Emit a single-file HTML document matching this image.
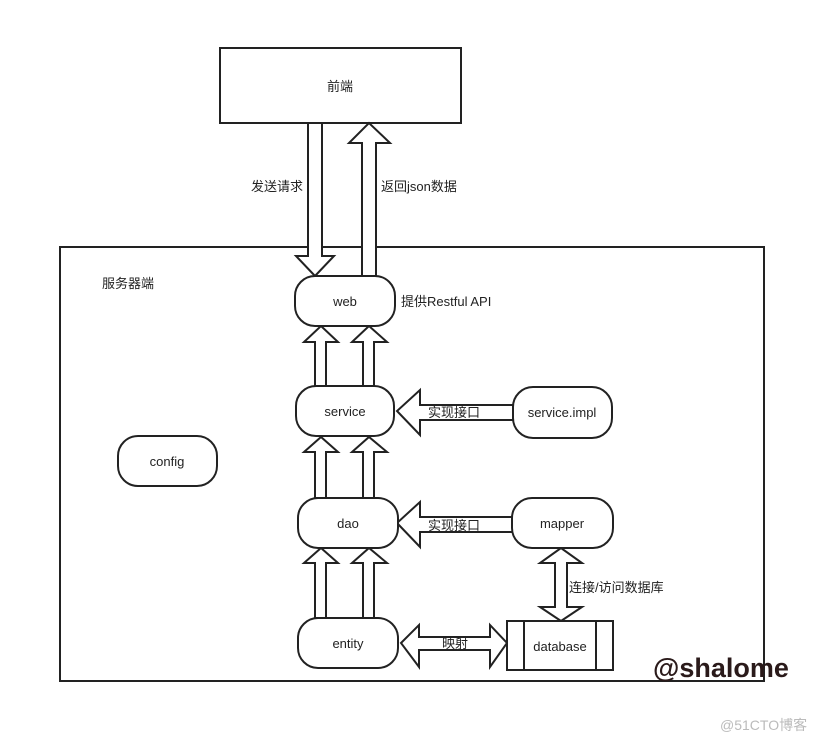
<!DOCTYPE html>
<html><head><meta charset="utf-8"><style>
html,body{margin:0;padding:0;background:#fff}
svg{display:block}
text{font-family:"Liberation Sans","Noto Sans CJK SC",sans-serif;font-size:13px;fill:#222}
</style></head><body>
<svg width="826" height="743" viewBox="0 0 826 743" xmlns="http://www.w3.org/2000/svg">
<g fill="#fff" stroke="#222" stroke-width="2">
<rect x="220" y="48" width="241" height="75"/>
<rect x="60" y="247" width="704" height="434"/>
<polygon points="308,123 322,123 322,256 334,256 315,276 296,256 308,256"/>
<polygon points="362,276 376,276 376,143 390,143 369,123 349,143 362,143"/>
<polygon points="315,386 326,386 326,342 338,342 321,326 304,342 315,342"/>
<polygon points="363,386 374,386 374,342 387,342 369,326 352,342 363,342"/>
<polygon points="315,498 326,498 326,452 338,452 321,437 304,452 315,452"/>
<polygon points="363,498 374,498 374,452 387,452 369,437 352,452 363,452"/>
<polygon points="315,618 326,618 326,563 338,563 321,548 304,563 315,563"/>
<polygon points="363,618 374,618 374,563 387,563 369,548 352,563 363,563"/>
<polygon points="513,405 420,405 420,390 397,411 420,435 420,420 513,420"/>
<polygon points="513,517 420,517 420,502 397,523 420,547 420,532 513,532"/>
<polygon points="555,563 540,563 561,548 582,563 567,563 567,607 582,607 561,621 540,607 555,607"/>
<polygon points="419,637 419,625 401,643 419,667 419,650 490,650 490,667 507,643 490,625 490,637"/>
<rect x="295" y="276" width="100" height="50" rx="20"/>
<rect x="296" y="386" width="98" height="50" rx="20"/>
<rect x="513" y="387" width="99" height="51" rx="20"/>
<rect x="118" y="436" width="99" height="50" rx="20"/>
<rect x="298" y="498" width="100" height="50" rx="20"/>
<rect x="512" y="498" width="101" height="50" rx="20"/>
<rect x="298" y="618" width="100" height="50" rx="20"/>
<rect x="507" y="621" width="106" height="49"/>
<line x1="524" y1="621" x2="524" y2="670"/>
<line x1="596" y1="621" x2="596" y2="670"/>
</g>
<text x="340" y="91" text-anchor="middle">前端</text>
<text x="251" y="191">发送请求</text>
<text x="381" y="191">返回json数据</text>
<text x="102" y="288">服务器端</text>
<text x="345" y="306" text-anchor="middle">web</text>
<text x="401" y="306">提供Restful API</text>
<text x="345" y="416" text-anchor="middle">service</text>
<text x="428" y="417">实现接口</text>
<text x="562" y="417" text-anchor="middle">service.impl</text>
<text x="167" y="466" text-anchor="middle">config</text>
<text x="348" y="528" text-anchor="middle">dao</text>
<text x="428" y="530">实现接口</text>
<text x="562" y="528" text-anchor="middle">mapper</text>
<text x="569" y="592">连接/访问数据库</text>
<text x="348" y="648" text-anchor="middle">entity</text>
<text x="442" y="648">映射</text>
<text x="560" y="651" text-anchor="middle">database</text>
<text x="653" y="677" style="font-size:27px;font-weight:bold;fill:#2a1a1a">@shalome</text>
<text x="720" y="730" style="font-size:14px;fill:#bbb">@51CTO博客</text>
</svg>
</body></html>
